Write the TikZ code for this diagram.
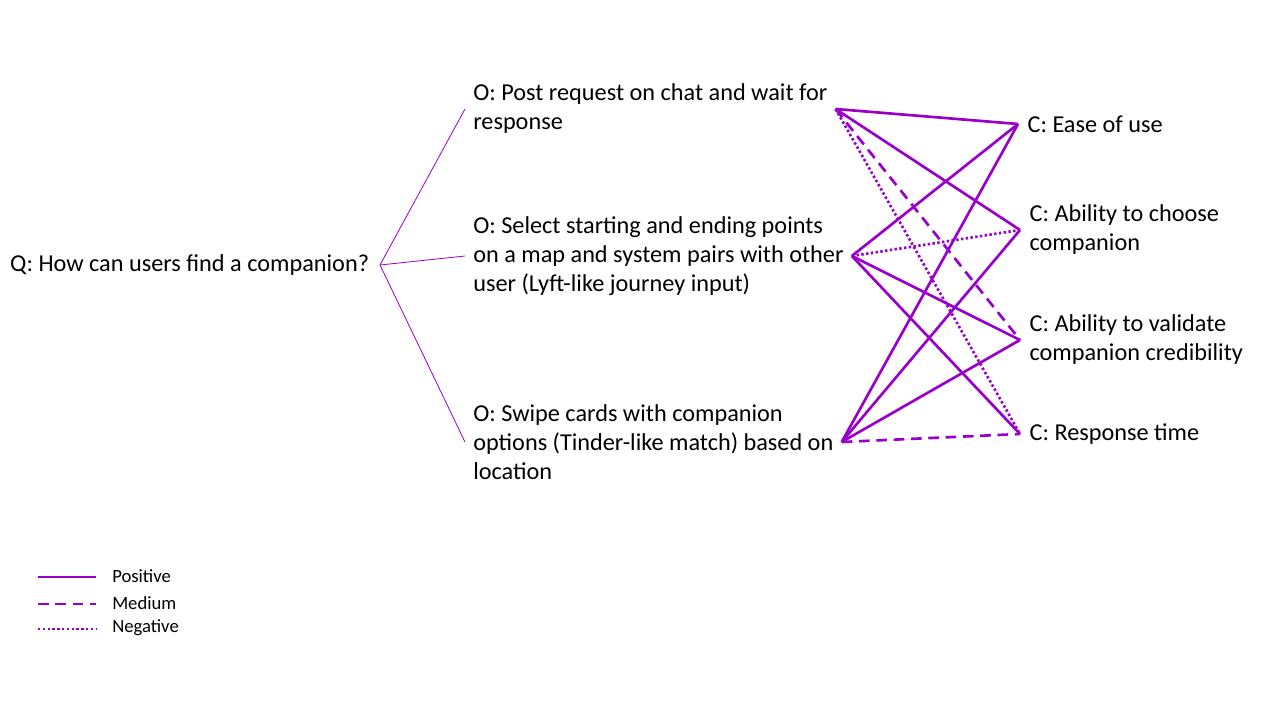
\documentclass[tikz,border=0pt]{standalone}
\usepackage{fontspec}
\setmainfont{Carlito}
\definecolor{LinkPurple}{HTML}{9900CC}
\definecolor{TextBlack}{HTML}{000000}
\usepackage{tikz}
\usetikzlibrary{positioning}
\tikzset{
    question/.style={
        anchor=east,
        inner xsep=8pt,
        inner ysep=0pt,
        text=TextBlack,
        font=\fontsize{18.2pt}{21.75pt}\selectfont,
        align=left
    },
    option/.style={
        anchor=west,
        inner xsep=6pt,
        inner ysep=0pt,
        text=TextBlack,
        font=\fontsize{18.2pt}{21.75pt}\selectfont,
        align=left
    },
    criterion/.style={
        anchor=west,
        inner xsep=7pt,
        inner ysep=0pt,
        text=TextBlack,
        font=\fontsize{18.2pt}{21.75pt}\selectfont,
        align=left
    },
    legendtext/.style={
        anchor=west,
        inner sep=0pt,
        text=TextBlack,
        font=\fontsize{14pt}{16.8pt}\selectfont
    },
    branch/.style={
        draw=LinkPurple,
        line width=0.6pt
    },
    positive/.style={
        draw=LinkPurple,
        line width=2pt
    },
    medium/.style={
        draw=LinkPurple,
        line width=2pt,
        dash pattern=on 8pt off 5pt
    },
    negative/.style={
        draw=LinkPurple,
        line width=2pt,
        dash pattern=on 1.8pt off 1.8pt
    }
}
\begin{document}
\begin{tikzpicture}[x=0.75pt, y=-0.75pt]
    \useasboundingbox[fill=white] (0,0) rectangle (1280,720);

    \node[question] (q) at (380,265) {Q: How can users find a companion?};

    \node[option] (o1) at (465,109) {O: Post request on chat and wait for\\response};
    \node[option] (o2) at (465,256) {O: Select starting and ending points\\on a map and system pairs with other\\user (Lyft-like journey input)};
    \node[option] (o3) at (465,442) {O: Swipe cards with companion\\options (Tinder-like match) based on\\location};

    \node[criterion] (c1) at (1018,124) {C: Ease of use};
    \node[criterion] (c2) at (1020,230) {C: Ability to choose\\companion};
    \node[criterion] (c3) at (1020,340) {C: Ability to validate\\companion credibility};
    \node[criterion] (c4) at (1020,434) {C: Response time};

    \draw[branch] (q.east) -- (o1.west);
    \draw[branch] (q.east) -- (o2.west);
    \draw[branch] (q.east) -- (o3.west);

    % option 1
    \draw[positive] (o1.east) -- (c1.west);
    \draw[positive] (o1.east) -- (c2.west);
    \draw[medium] (o1.east) -- (c3.west);
    \draw[negative] (o1.east) -- (c4.west);

    % option 2
    \draw[positive] (o2.east) -- (c1.west);
    \draw[negative] (o2.east) -- (c2.west);
    \draw[positive] (o2.east) -- (c3.west);
    \draw[positive] (o2.east) -- (c4.west);

    % option 3
    \draw[positive] (o3.east) -- (c1.west);
    \draw[positive] (o3.east) -- (c2.west);
    \draw[positive] (o3.east) -- (c3.west);
    \draw[medium] (o3.east) -- (c4.west);

    % Legend
    \node[legendtext] (lpos) at (112,576) {Positive};
    \node[legendtext] (lmed) at (112,603) {Medium};
    \node[legendtext] (lneg) at (112,628) {Negative};
    \draw[positive] (lpos.west) ++(-74,1) -- ++(58,0);
    \draw[medium] (lmed.west) ++(-74,1) -- ++(58,0);
    \draw[negative] (lneg.west) ++(-74,1) -- ++(58,0);
\end{tikzpicture}
\end{document}
